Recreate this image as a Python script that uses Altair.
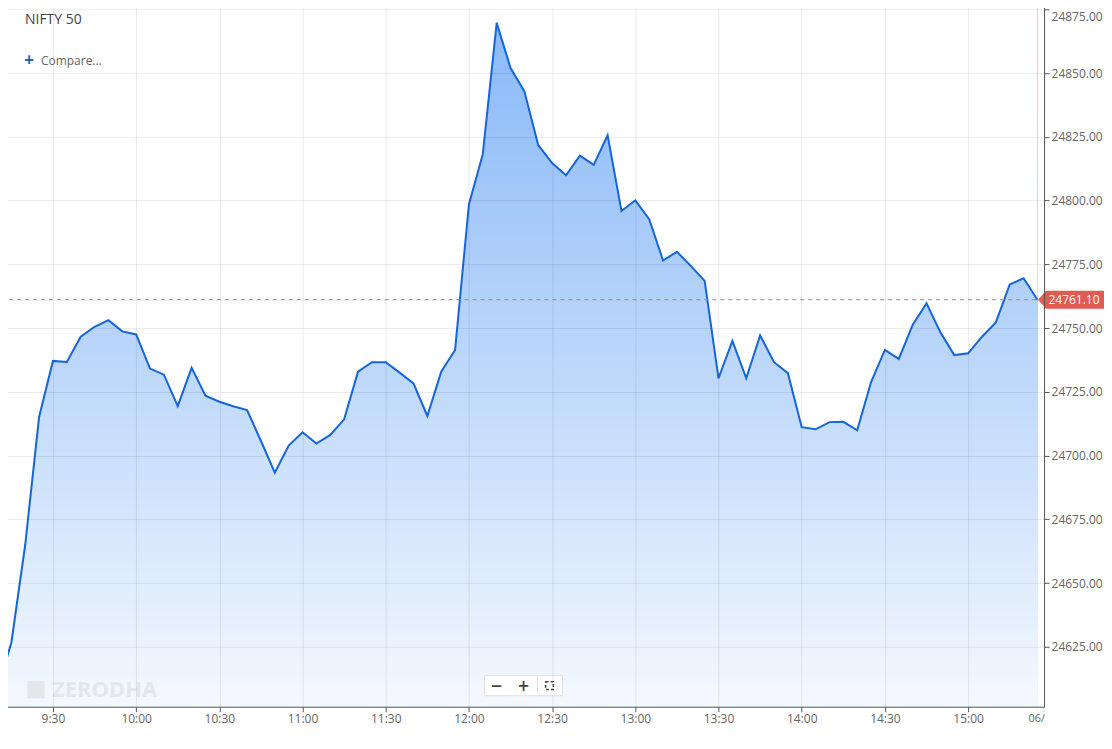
import altair as alt
import pandas as pd

# ---------------- data ----------------
times = [
    "09:12:43", "09:15", "09:20", "09:25", "09:30", "09:35", "09:40", "09:45", "09:50", "09:55",
    "10:00", "10:05", "10:10", "10:15", "10:20", "10:25", "10:30", "10:35", "10:40", "10:45",
    "10:50", "10:55", "11:00", "11:05", "11:10", "11:15", "11:20", "11:25", "11:30", "11:35",
    "11:40", "11:45", "11:50", "11:55", "12:00", "12:05", "12:10", "12:15", "12:20", "12:25",
    "12:30", "12:35", "12:40", "12:45", "12:50", "12:55", "13:00", "13:05", "13:10", "13:15",
    "13:20", "13:25", "13:30", "13:35", "13:40", "13:45", "13:50", "13:55", "14:00", "14:05",
    "14:10", "14:15", "14:20", "14:25", "14:30", "14:35", "14:40", "14:45", "14:50", "14:55",
    "15:00", "15:05", "15:10", "15:15", "15:20", "15:25",
]
values = [
    24618.4, 24626.6, 24665.0, 24715.1, 24737.1, 24736.7, 24746.6, 24750.5, 24753.1, 24748.7,
    24747.5, 24734.1, 24731.7, 24719.4, 24734.4, 24723.5, 24721.1, 24719.3, 24717.8, 24705.7,
    24693.3, 24703.9, 24709.1, 24704.7, 24708.1, 24714.2, 24732.9, 24736.6, 24736.6, 24732.5,
    24728.3, 24715.5, 24732.9, 24741.4, 24798.6, 24818.2, 24869.7, 24852.0, 24842.8, 24821.7,
    24814.7, 24809.9, 24817.6, 24814.0, 24825.6, 24795.9, 24800.1, 24792.7, 24776.5, 24779.9,
    24774.4, 24768.5, 24730.3, 24745.0, 24730.3, 24747.1, 24736.6, 24732.3, 24711.1, 24710.3,
    24713.1, 24713.2, 24709.9, 24728.8, 24741.4, 24737.9, 24751.2, 24759.7, 24748.3, 24739.4,
    24740.1, 24746.6, 24752.2, 24767.1, 24769.5, 24761.1,
]
x_tick_labels = ["9:30", "10:00", "10:30", "11:00", "11:30", "12:00", "12:30",
                 "13:00", "13:30", "14:00", "14:30", "15:00"]
y_ticks = [24625, 24650, 24675, 24700, 24725, 24750, 24775, 24800, 24825, 24850, 24875]
last_price = 24761.10
title_text = "NIFTY 50"
compare_text = "Compare..."
watermark = "ZERODHA"
date_stub = "06/"


def to_min(t):
    p = t.split(":")
    s = int(p[2]) if len(p) > 2 else 0
    return int(p[0]) * 60 + int(p[1]) + s / 60.0


df = pd.DataFrame({"t": times, "v": values})
df["m"] = df["t"].map(to_min)
x_ticks = [to_min(t) for t in x_tick_labels]

W, H = 1040, 707
FONT = "Open Sans"
Y_MIN, Y_MAX = 24601.49, 24878.53

common_axis = dict(
    grid=True, gridColor="#000000", gridOpacity=0.085, domainColor="#555555",
    tickColor="#555555", tickSize=5, labelColor="#666666", labelFontSize=12,
    labelFont=FONT, labelPadding=2, title=None, zindex=1,
)

x_enc = alt.X(
    "m:Q",
    scale=alt.Scale(domain=[552.71, 927.38], nice=False, zero=False),
    axis=alt.Axis(
        values=x_ticks,
        labelExpr="floor(datum.value/60) + ':' + (datum.value % 60 == 0 ? '00' : '30')",
        labelFlush=False, **common_axis,
    ),
)
y_enc = alt.Y(
    "v:Q",
    scale=alt.Scale(domain=[Y_MIN, Y_MAX], nice=False, zero=False),
    axis=alt.Axis(
        orient="right", values=y_ticks, format=".2f",
        labelOffset={"condition": {"test": "datum.value >= 24875", "value": 7}, "value": 0},
        **common_axis,
    ),
)

# ---- vertical gradient fill: nested opaque colour strips, masked above the line by white ----
TOP = (140, 186, 248)
px_per_unit = H / (Y_MAX - Y_MIN)
strip = 4
band_rows = []
y0 = 0
while y0 < H:
    t = ((y0 + strip / 2) - 22) / (H - 22)
    t = min(max(t, 0.0), 1.0)
    a = 0.91 * t ** 1.1
    rgb = [round(c + a * (255 - c)) for c in TOP]
    band_rows.append({"v": Y_MAX - y0 / px_per_unit, "v2": Y_MIN,
                      "c": "#%02x%02x%02x" % tuple(rgb), "order": y0})
    y0 += strip
x_first, x_last = float(df["m"].min()), float(df["m"].max())
bands = alt.Chart(pd.DataFrame(band_rows)).mark_rect(strokeWidth=0, clip=True).encode(
    x=alt.datum(x_first), x2=alt.datum(x_last), y=y_enc, y2="v2:Q",
    color=alt.Color("c:N", scale=None))

mask = alt.Chart(df).mark_area(color="white", opacity=1, clip=True).encode(
    x=x_enc, y=y_enc, y2=alt.datum(Y_MAX))

line = alt.Chart(df).mark_line(color="#1565dc", strokeWidth=2, clip=True).encode(x=x_enc, y=y_enc)

pdf = pd.DataFrame({"v": [last_price]})
price_rule = alt.Chart(pdf).mark_rule(color="#d07070", strokeDash=[4, 4], strokeWidth=1).encode(y=y_enc)
tag_path = "M -1 0 L -0.758 -0.273 L 1 -0.273 L 1 0.273 L -0.758 0.273 Z"
price_tag = alt.Chart(pdf).mark_point(
    shape=tag_path, filled=True, size=4356, color="#e05b52", opacity=1, strokeWidth=0
).encode(x=alt.value(1067), y=y_enc)
price_text = alt.Chart(pdf).mark_text(
    color="white", fontSize=12, font=FONT, align="center", baseline="middle"
).encode(x=alt.value(1070), y=y_enc, text=alt.Text("v:Q", format=".2f"))

one = pd.DataFrame({"k": [0]})


def txt(text, x, y, **kw):
    return alt.Chart(one).mark_text(text=text, baseline="middle", **kw).encode(
        x=alt.value(x), y=alt.value(y))


title = txt(title_text, 20, 20, align="left", fontSize=14, font=FONT, color="#444444")
plus = txt("+", 24, 61, align="center", fontSize=17, font=FONT, fontWeight="bold", color="#2563b0")
compare = txt(compare_text, 36, 61, align="left", fontSize=12, font=FONT, color="#666666")

wm_icon = alt.Chart(one).mark_point(shape="square", filled=True, size=300, color="#e4e7ea", opacity=1).encode(
    x=alt.value(31), y=alt.value(690))
wm_text = txt(watermark, 47, 690, align="left", fontSize=22, font=FONT, fontWeight="bold", color="#e4e7ea")

zbox = alt.Chart(one).mark_rect(fill="white", stroke="#e2e2e2", strokeWidth=1).encode(
    x=alt.value(480), x2=alt.value(558), y=alt.value(676), y2=alt.value(696))
zsep = alt.Chart(one).mark_rule(color="#e2e2e2").encode(
    x=alt.value(533), y=alt.value(678), y2=alt.value(694))
zminus = txt("−", 492, 686, align="center", fontSize=15, font="DejaVu Sans", fontWeight="bold", color="#444444")
zplus = txt("+", 519, 686, align="center", fontSize=15, font="DejaVu Sans", fontWeight="bold", color="#444444")
zfull = alt.Chart(one).mark_point(shape="square", size=60, color="#444444", strokeWidth=1.5,
                                  strokeDash=[3, 2], opacity=1).encode(x=alt.value(545), y=alt.value(686))

stub_tick = alt.Chart(one).mark_rule(color="#888888", strokeDash=[1, 2]).encode(
    x=alt.value(1040), y=alt.value(708), y2=alt.value(714))
stub_text = txt(date_stub, 1041, 719, align="right", fontSize=11, font=FONT, color="#666666")

chart = alt.layer(
    bands, mask, line, price_rule, price_tag, price_text,
    title, plus, compare, wm_icon, wm_text,
    zbox, zsep, zminus, zplus, zfull, stub_tick, stub_text,
).properties(
    width=W, height=H,
    autosize=alt.AutoSizeParams(type="none"),
    padding={"left": -3, "top": -8, "right": 60, "bottom": 22},
    background="white",
).configure_view(stroke=None)

chart.save("out.html", embed_options={"renderer": "svg", "actions": False})
